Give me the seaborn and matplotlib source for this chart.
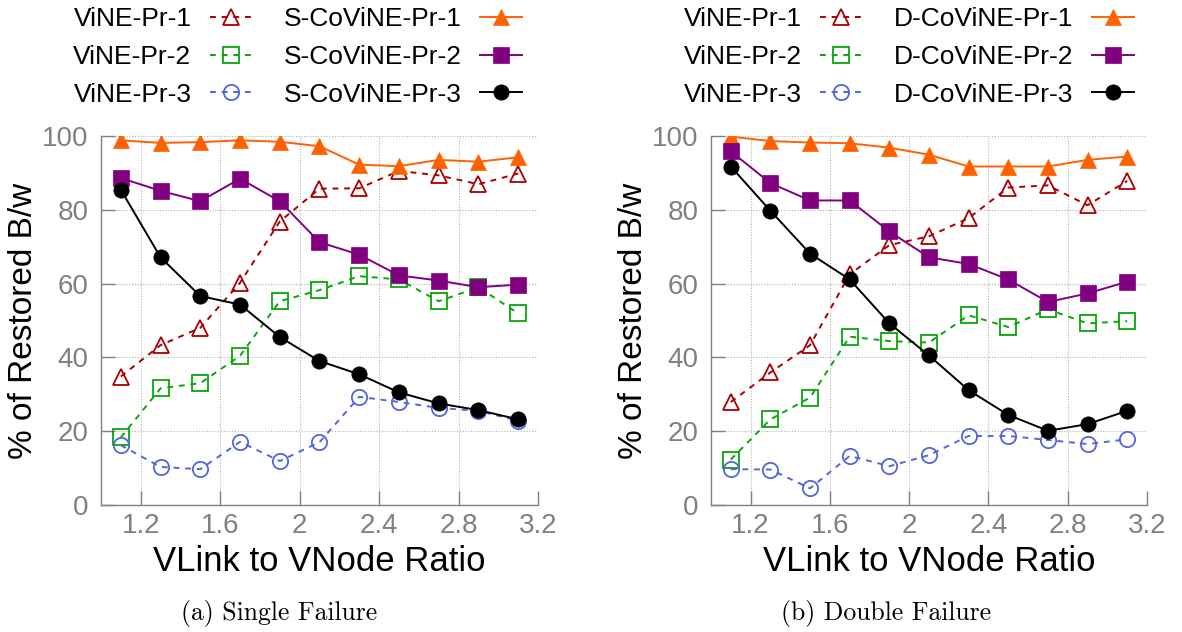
import pandas as pd
import seaborn as sns
import matplotlib.pyplot as plt

# x axis: virtual link to virtual node ratio
ratio = [1.1, 1.3, 1.5, 1.7, 1.9, 2.1, 2.3, 2.5, 2.7, 2.9, 3.1]

# (a) single failure
vine_pr1_single = [34.8, 43.3, 48.0, 60.2, 76.8, 85.7, 85.8, 90.5, 89.3, 86.9, 89.8]
vine_pr2_single = [18.3, 31.6, 33.0, 40.4, 55.2, 58.2, 62.0, 61.1, 55.2, 59.0, 51.9]
vine_pr3_single = [16.2, 10.3, 9.7, 17.1, 11.9, 17.0, 29.3, 27.9, 26.3, 25.5, 22.8]
scov_pr1 = [98.8, 98.1, 98.3, 98.8, 98.4, 97.2, 92.2, 91.8, 93.5, 93.0, 94.2]
scov_pr2 = [88.6, 85.1, 82.3, 88.4, 82.3, 71.2, 67.8, 62.2, 60.8, 59.0, 59.7]
scov_pr3 = [85.4, 67.1, 56.6, 54.3, 45.5, 39.0, 35.4, 30.5, 27.5, 25.7, 23.2]

# (b) double failure
vine_pr1_double = [27.9, 35.9, 43.3, 62.5, 70.4, 72.8, 77.7, 86.0, 86.6, 81.2, 87.8]
vine_pr2_double = [12.3, 23.2, 29.1, 45.6, 44.4, 44.0, 51.4, 48.2, 53.0, 49.2, 49.8]
vine_pr3_double = [9.7, 9.6, 4.5, 13.3, 10.5, 13.5, 18.7, 18.7, 17.6, 16.5, 17.8]
dcov_pr1 = [99.8, 98.6, 98.2, 98.0, 96.8, 94.9, 91.7, 91.7, 91.7, 93.5, 94.4]
dcov_pr2 = [95.8, 87.2, 82.5, 82.5, 74.1, 67.1, 65.3, 61.1, 55.0, 57.3, 60.5]
dcov_pr3 = [91.7, 79.7, 68.1, 61.1, 49.2, 40.5, 31.1, 24.4, 20.1, 21.9, 25.5]

x_ticks = [1.2, 1.6, 2.0, 2.4, 2.8, 3.2]
x_tick_labels = ['1.2', '1.6', '2', '2.4', '2.8', '3.2']
y_ticks = [0, 20, 40, 60, 80, 100]

plt.rcParams['font.family'] = ['Liberation Sans', 'DejaVu Sans']

# line styles, one per protection level
styles = {
    'vine1': dict(color='#a80000', marker='^', ls=(0, (3, 3)), filled=False),
    'vine2': dict(color='#0aa50a', marker='s', ls=(0, (3, 3)), filled=False),
    'vine3': dict(color='#5465dc', marker='o', ls=(0, (3, 3)), filled=False),
    'co1': dict(color='#ff6000', marker='^', ls='-', filled=True),
    'co2': dict(color='#800080', marker='s', ls='-', filled=True),
    'co3': dict(color='#000000', marker='o', ls='-', filled=True),
}

panels = [
    ('S', [('ViNE-Pr-1', 'vine1', vine_pr1_single), ('ViNE-Pr-2', 'vine2', vine_pr2_single),
           ('ViNE-Pr-3', 'vine3', vine_pr3_single), ('S-CoViNE-Pr-1', 'co1', scov_pr1),
           ('S-CoViNE-Pr-2', 'co2', scov_pr2), ('S-CoViNE-Pr-3', 'co3', scov_pr3)],
     '(a) Single Failure'),
    ('D', [('ViNE-Pr-1', 'vine1', vine_pr1_double), ('ViNE-Pr-2', 'vine2', vine_pr2_double),
           ('ViNE-Pr-3', 'vine3', vine_pr3_double), ('D-CoViNE-Pr-1', 'co1', dcov_pr1),
           ('D-CoViNE-Pr-2', 'co2', dcov_pr2), ('D-CoViNE-Pr-3', 'co3', dcov_pr3)],
     '(b) Double Failure'),
]

fig = plt.figure(figsize=(11.82, 6.32), dpi=100)
ax_left = fig.add_axes([0.0854, 0.201, 0.3698, 0.584])
ax_right = fig.add_axes([0.6015, 0.201, 0.3689, 0.584])
grey = '#808080'

for ax, (tag, series, caption), leg_x, cap_x in zip(
        [ax_left, ax_right], panels, [0.252, 0.769], [0.236, 0.750]):
    rows = []
    for label, key, vals in series:
        rows += [{'series': label, 'ratio': r, 'value': v} for r, v in zip(ratio, vals)]
    df = pd.DataFrame(rows)

    for label, key, vals in series:
        st = styles[key]
        sub = df[df['series'] == label]
        sns.lineplot(data=sub, x='ratio', y='value', ax=ax, label=label,
                     color=st['color'], marker=st['marker'], linestyle=st['ls'],
                     linewidth=1.4, markersize=11,
                     markerfacecolor=st['color'] if st['filled'] else 'none',
                     markeredgecolor=st['color'],
                     markeredgewidth=1.3 if not st['filled'] else 0.5,
                     sort=False, zorder=3 if st['filled'] else 2)

    ax.set_xlim(1.0, 3.2)
    ax.set_ylim(0, 100)
    ax.set_xticks(x_ticks)
    ax.set_xticklabels(x_tick_labels)
    ax.set_yticks(y_ticks)
    ax.grid(True, color='#b0b0b0', linestyle=(0, (1, 1.5)), linewidth=0.8)
    ax.set_axisbelow(True)
    for side in ['top', 'right']:
        ax.spines[side].set_visible(False)
    for side in ['left', 'bottom']:
        ax.spines[side].set_color(grey)
        ax.spines[side].set_linewidth(1.0)
    ax.tick_params(axis='both', direction='in', length=10, width=1.0,
                   color=grey, labelcolor=grey, labelsize=20)
    ax.tick_params(axis='y', pad=9)
    ax.tick_params(axis='x', pad=6)
    ax.set_xlabel('VLink to VNode Ratio', fontsize=25, labelpad=4)
    ax.set_ylabel('% of Restored B/w', fontsize=24, labelpad=2)

    handles, labels = ax.get_legend_handles_labels()
    ax.legend(handles, labels, ncol=2, loc='center',
              bbox_to_anchor=(leg_x, 0.910), bbox_transform=fig.transFigure,
              frameon=False, fontsize=19, markerfirst=False,
              handlelength=1.6, handletextpad=0.7, columnspacing=1.2,
              labelspacing=0.52, borderaxespad=0, borderpad=0)

    fig.text(cap_x, 0.030, caption, ha='center', va='center',
             fontsize=18.5, family='cmr10')

fig.savefig('out.png', dpi=100)
